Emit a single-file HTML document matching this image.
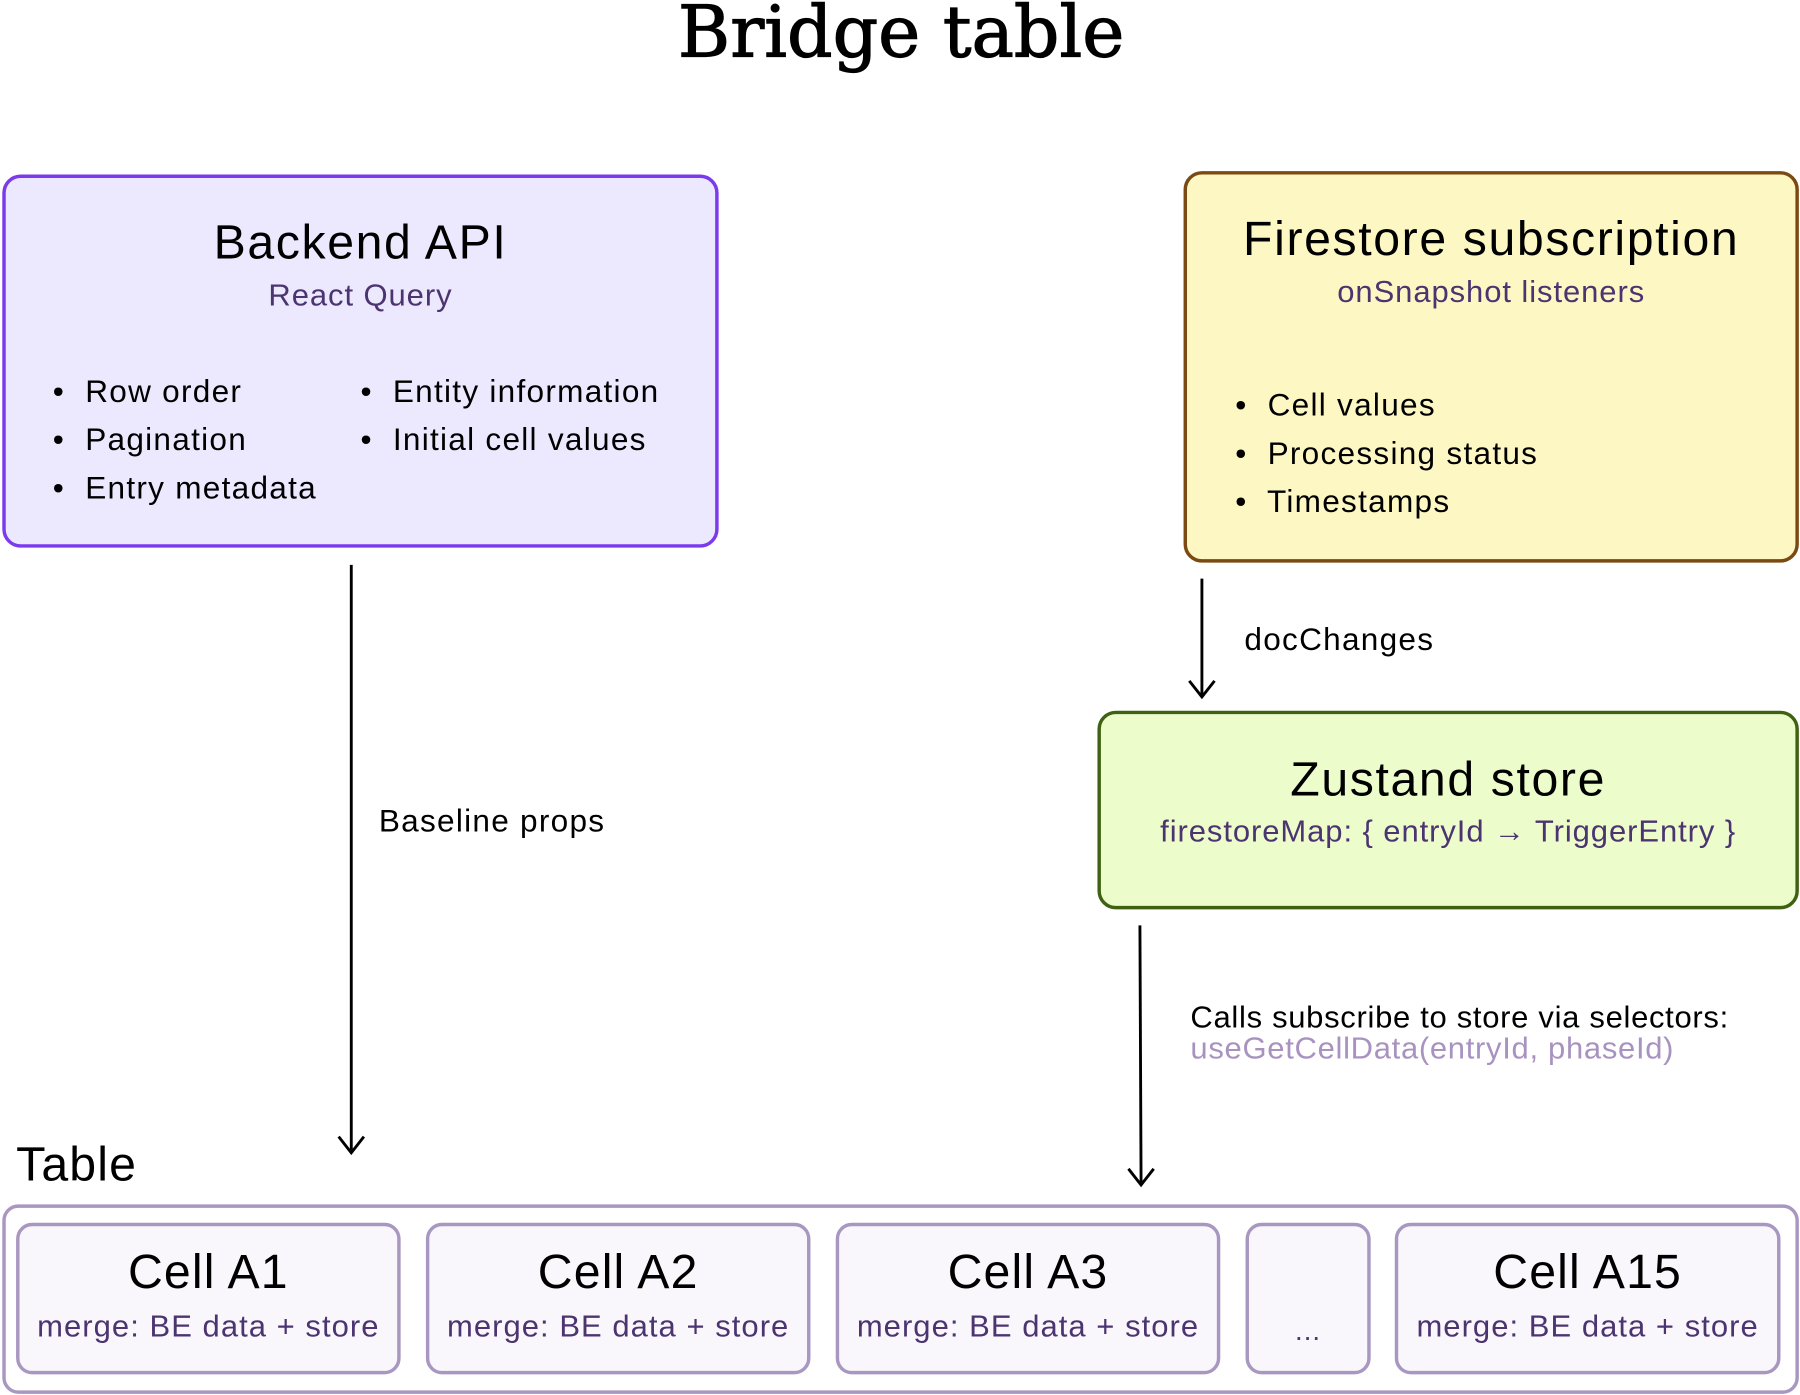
<!DOCTYPE html>
<html><head><meta charset="utf-8"><style>
html,body{margin:0;padding:0;background:#fff;width:1800px;height:1395px;overflow:hidden}
#w{position:absolute;left:0;top:0;width:1568px;height:1215px;transform:scale(1.14796,1.14815);transform-origin:0 0;font-family:"Liberation Sans","DejaVu Sans",sans-serif;color:#000}
.a{position:absolute;white-space:nowrap}
.box{position:absolute;box-sizing:border-box;border-radius:16px}
.c{text-align:center}
.sub{color:#4b3470;letter-spacing:0.8px}
.L{font-size:27.5px;line-height:42px;letter-spacing:1.1px}
.T{font-size:42px;letter-spacing:1.4px}
.cell{position:absolute;top:1065px;height:132px;box-sizing:border-box;border:3px solid #a897c0;border-radius:14px;background:#f9f7fc}
.cell .t{position:absolute;left:0;right:0;top:16px;text-align:center;font-size:42px;letter-spacing:1px}
.cell .s{position:absolute;left:0;right:0;top:72px;text-align:center;font-size:27px;color:#4b3470;letter-spacing:0.9px}
</style></head><body><div id="w">
<div class="a" style="left:0;width:1570px;top:-9px;text-align:center;font-family:'DejaVu Serif','Liberation Serif',serif;font-size:62px;font-weight:normal;-webkit-text-stroke:1px #000">Bridge table</div>

<div class="box" style="left:2px;top:152px;width:624px;height:325px;border:3px solid #7c3aed;background:#ece9fe"></div>
<div class="a c T" style="left:2px;width:624px;top:187px">Backend API</div>
<div class="a c sub" style="left:2px;width:624px;top:242px;font-size:27px">React Query</div>
<div class="a L" style="left:46px;top:320px">•&nbsp; Row order<br>•&nbsp; Pagination<br>•&nbsp; Entry metadata</div>
<div class="a L" style="left:314px;top:320px">•&nbsp; Entity information<br>•&nbsp; Initial cell values</div>

<div class="box" style="left:1031px;top:149px;width:536px;height:341px;border:3px solid #7a4a12;background:#fdf7c3"></div>
<div class="a c T" style="left:1031px;width:536px;top:184px">Firestore subscription</div>
<div class="a c sub" style="left:1031px;width:536px;top:239px;font-size:27px">onSnapshot listeners</div>
<div class="a L" style="left:1076px;top:332px">•&nbsp; Cell values<br>•&nbsp; Processing status<br>•&nbsp; Timestamps</div>

<div class="box" style="left:956px;top:619px;width:611px;height:173px;border:3px solid #3f6212;background:#ecfccb"></div>
<div class="a c T" style="left:956px;width:611px;top:655px">Zustand store</div>
<div class="a c sub" style="left:956px;width:611px;top:709px;font-size:27px">firestoreMap: { entryId → TriggerEntry }</div>

<svg class="a" style="left:0;top:0" width="1568" height="1215">
<g stroke="#000" stroke-width="2.5" fill="none">
<line x1="306" y1="492" x2="306" y2="1003"/><polyline points="295,990 306,1004 317,990"/>
<line x1="1047" y1="504" x2="1047" y2="606"/><polyline points="1036,593 1047,607 1058,593"/>
<line x1="993" y1="806" x2="994" y2="1031"/><polyline points="983,1018 994,1032 1005,1018"/>
</g></svg>
<div class="a L" style="left:330px;top:694px">Baseline props</div>
<div class="a L" style="left:1084px;top:536px">docChanges</div>
<div class="a" style="left:1037px;top:871px;font-size:27px;letter-spacing:0.6px">Calls subscribe to store via selectors:</div>
<div class="a" style="left:1037px;top:898px;font-size:27px;color:#a893c0;letter-spacing:0.6px">useGetCellData(entryId, phaseId)</div>

<div class="a" style="left:14px;top:990px;font-size:42px;letter-spacing:1px">Table</div>
<div class="box" style="left:2px;top:1049px;width:1565px;height:165px;border:3px solid #a897c0;border-radius:14px;background:#fff"></div>
<div class="cell" style="left:14px;width:335px"><div class="t">Cell A1</div><div class="s">merge: BE data + store</div></div>
<div class="cell" style="left:371px;width:335px"><div class="t">Cell A2</div><div class="s">merge: BE data + store</div></div>
<div class="cell" style="left:728px;width:335px"><div class="t">Cell A3</div><div class="s">merge: BE data + store</div></div>
<div class="cell" style="left:1085px;width:109px"><div class="s" style="top:78px;font-size:24px;color:#4b3470">...</div></div>
<div class="cell" style="left:1215px;width:336px"><div class="t">Cell A15</div><div class="s">merge: BE data + store</div></div>
</div></body></html>
